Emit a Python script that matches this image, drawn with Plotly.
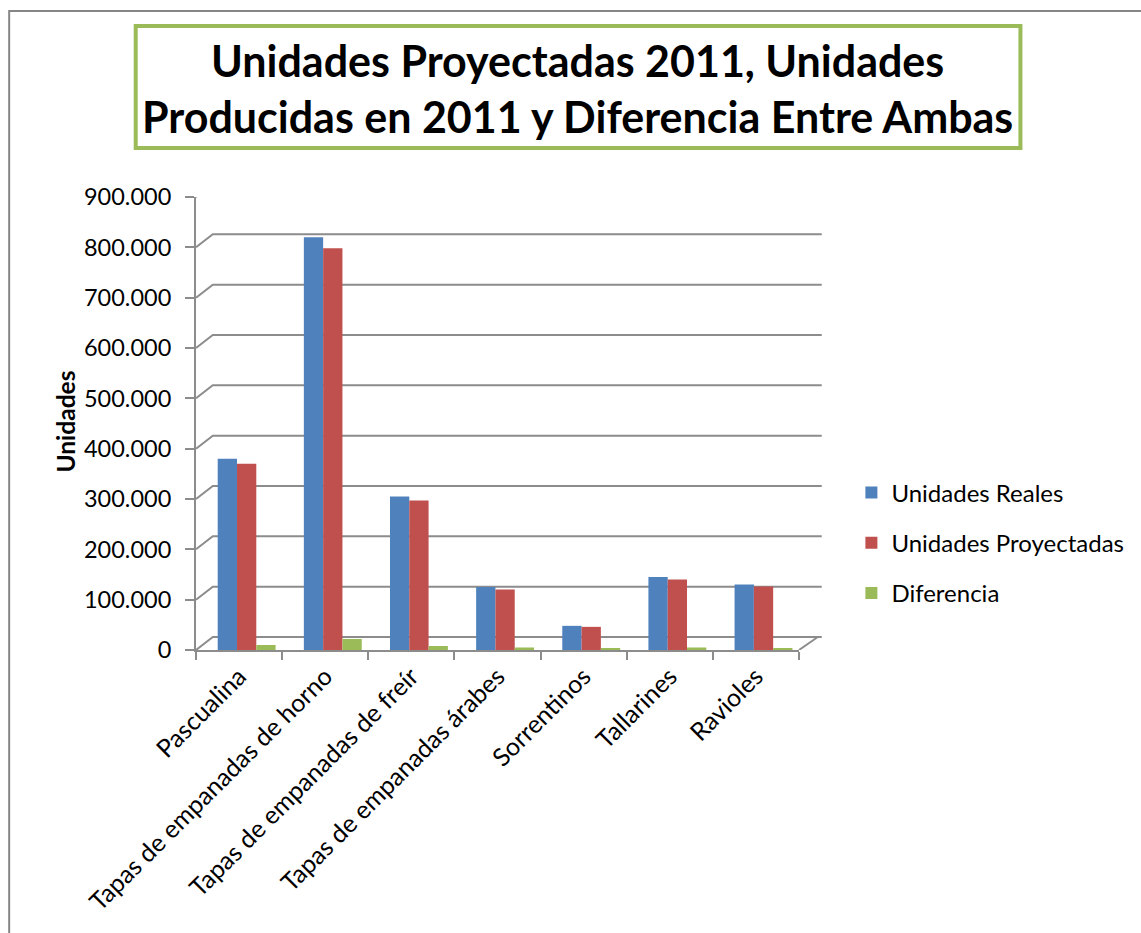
import plotly.graph_objects as go

categorias = ["Pascualina", "Tapas de empanadas de horno", "Tapas de empanadas de freír",
              "Tapas de empanadas árabes", "Sorrentinos", "Tallarines", "Ravioles"]
unidades_reales = [380000, 820000, 305000, 125000, 48000, 145000, 130000]
unidades_proyectadas = [370000, 798000, 297000, 120000, 46000, 140000, 126000]
diferencia = [10000, 22000, 8000, 5000, 2000, 5000, 4000]
y_ticks = [0, 100000, 200000, 300000, 400000, 500000, 600000, 700000, 800000, 900000]
y_tick_labels = ["0", "100.000", "200.000", "300.000", "400.000", "500.000",
                 "600.000", "700.000", "800.000", "900.000"]

FONT = "Lato"
GRID = "#8c8c8c"

W, H = 1141, 933
L, R, T, B = 196, 806, 197, 650  # plot area in px
Y_MAX = 900000
DEPTH_X = 17   # px, 3D back-wall shift to the right
DEPTH_Y = 13   # px, 3D back-wall shift upwards


def px(xp):
    return (xp - L) / (R - L)


def py(yp):
    return (B - yp) / (B - T)


depth_val = DEPTH_Y * Y_MAX / (B - T)

bar_w = 0.224
series = [
    ("Unidades Reales", unidades_reales, "#4F81BD", -0.248),
    ("Unidades Proyectadas", unidades_proyectadas, "#C0504D", -0.024),
    ("Diferencia", diferencia, "#9BBB59", 0.200),
]

fig = go.Figure()
for name, vals, color, off in series:
    fig.add_trace(go.Bar(
        x=categorias, y=vals, name=name, legendgroup=name,
        marker=dict(color=color, line=dict(width=0)),
        width=bar_w, offset=off,
    ))

shapes = []
# back-wall gridlines with 3D connector to the front axis, derived from the tick values
for v in y_ticks:
    shapes.append(dict(
        type="path", xref="paper", yref="y", layer="below",
        path=f"M {px(L)} {v} L {px(L + DEPTH_X)} {v + depth_val} L {px(R + DEPTH_X + 6)} {v + depth_val}",
        line=dict(color=GRID, width=2),
    ))
# right edge of the floor
shapes.append(dict(
    type="path", xref="paper", yref="y", layer="below",
    path=f"M {px(R)} 0 L {px(R + DEPTH_X + 2)} {depth_val}",
    line=dict(color=GRID, width=2),
))
shapes += [
    dict(type="rect", xref="paper", yref="paper",
         x0=px(135), x1=px(1030), y0=py(148), y1=py(26),
         line=dict(color="#9BBB59", width=4), fillcolor="rgba(0,0,0,0)", layer="above"),
    dict(type="path", xref="paper", yref="paper",
         path=f"M {px(7)} {py(960)} L {px(7)} {py(11)} L {px(1160)} {py(11)}",
         line=dict(color="#868686", width=2)),
]

fig.update_layout(
    width=W, height=H, autosize=False,
    margin=dict(l=L, r=W - R, t=T, b=H - B, pad=0),
    paper_bgcolor="white", plot_bgcolor="rgba(0,0,0,0)",
    font=dict(family=FONT, size=24, color="black"),
    barmode="group",
    showlegend=True,
    legend=dict(x=px(859), y=py(543), xanchor="left", yanchor="middle",
                font=dict(family=FONT, size=24, color="black"),
                tracegroupgap=16, bgcolor="rgba(0,0,0,0)"),
    xaxis=dict(
        type="category", range=[-0.5, 6.5],
        showgrid=False, showline=True, linecolor=GRID, linewidth=2,
        ticks="outside", tickson="boundaries", ticklen=8, tickcolor=GRID, tickwidth=2,
        tickangle=-45, tickfont=dict(family=FONT, size=25, color="black"),
    ),
    yaxis=dict(
        range=[0, Y_MAX], tickvals=y_ticks, ticktext=y_tick_labels,
        showgrid=False,
        showline=True, linecolor=GRID, linewidth=2,
        ticks="outside", ticklen=9, tickcolor=GRID, tickwidth=2,
        ticklabelstandoff=9,
        tickfont=dict(family=FONT, size=23.5, color="black"),
        zeroline=False,
    ),
    annotations=[
        dict(text="<b>Unidades Proyectadas 2011, Unidades<br>Producidas en 2011 y Diferencia Entre Ambas</b>",
             x=px(582), y=py(89), xref="paper", yref="paper",
             xanchor="center", yanchor="middle", showarrow=False,
             font=dict(family=FONT, size=43, color="black"), align="center"),
        dict(text="<b>Unidades</b>", x=px(63), y=py(422), xref="paper", yref="paper",
             xanchor="center", yanchor="middle", showarrow=False, textangle=-90,
             font=dict(family=FONT, size=24.5, color="black")),
    ],
    shapes=shapes,
)

fig.write_html("out.html")
